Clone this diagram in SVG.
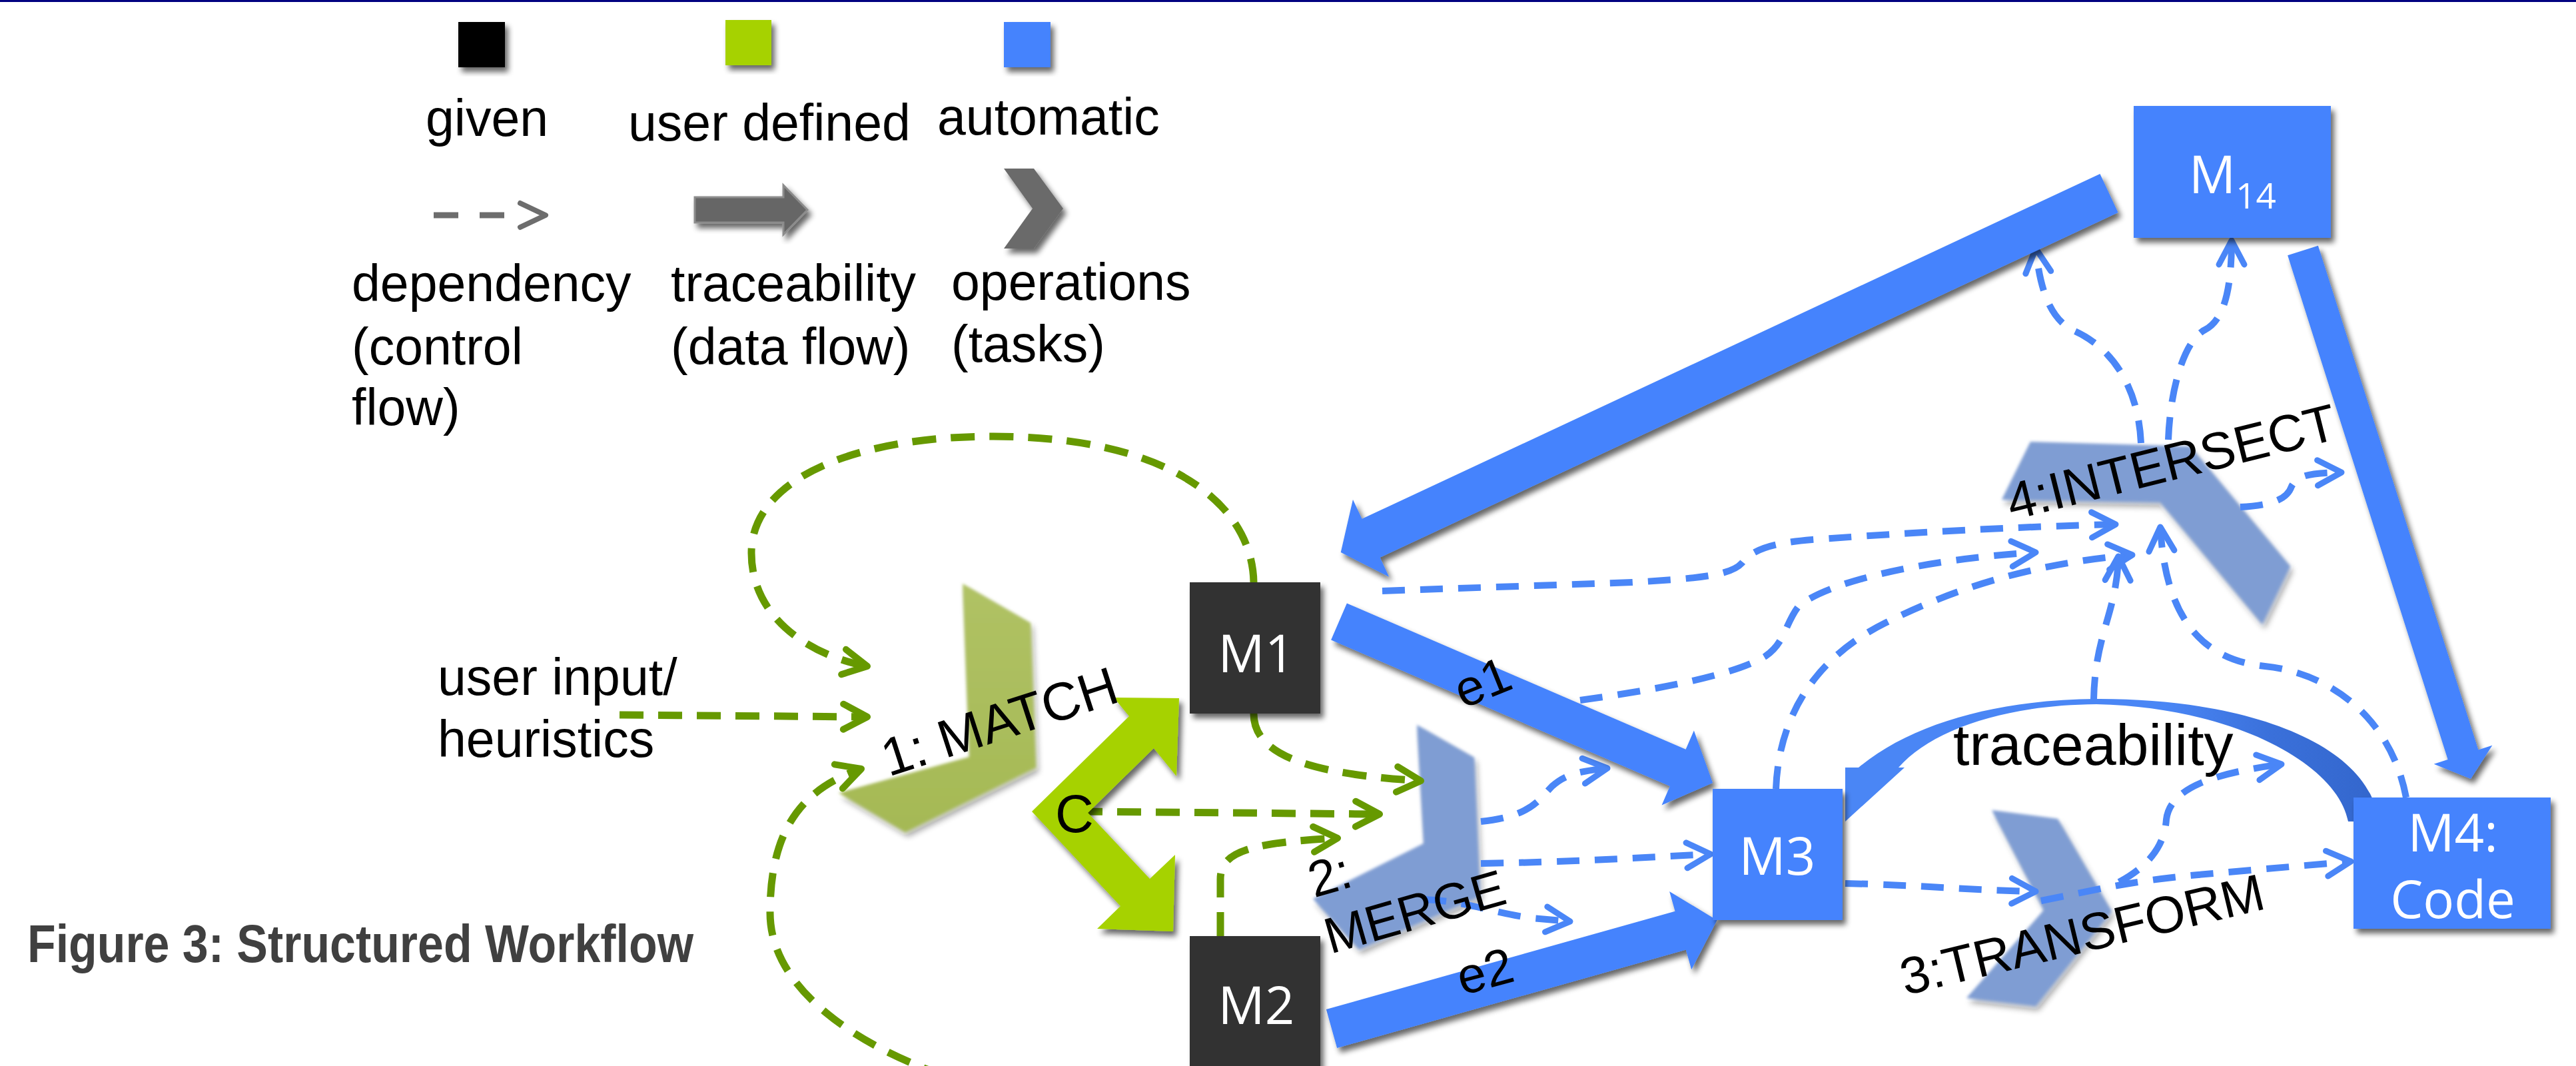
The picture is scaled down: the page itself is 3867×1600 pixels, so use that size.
<svg xmlns="http://www.w3.org/2000/svg" width="3867" height="1600" viewBox="0 0 3867 1600">
<defs>
<style>
.t{font-family:"Liberation Sans",Arial,sans-serif;fill:#000}
.leg{font-size:77px}
.lab{font-size:76px}
.bx{font-family:"Open Sans","Noto Sans",sans-serif;fill:#fff;font-size:78px;text-anchor:middle}
.gd{fill:none;stroke:#669900;stroke-width:11;stroke-dasharray:36 22}
.bd{fill:none;stroke:#4a86f7;stroke-width:10;stroke-dasharray:34 23}
.op{fill:#7f9dd3}
.blk{fill:#4483fd}
.dk{fill:#333333}
</style>
<filter id="sh" x="-20%" y="-20%" width="140%" height="140%">
<feGaussianBlur in="SourceAlpha" stdDeviation="4"/>
<feOffset dx="5" dy="7" result="o"/>
<feComponentTransfer><feFuncA type="linear" slope="0.6"/></feComponentTransfer>
<feMerge><feMergeNode/><feMergeNode in="SourceGraphic"/></feMerge>
</filter>
<filter id="soft" x="-20%" y="-20%" width="140%" height="140%">
<feGaussianBlur in="SourceGraphic" stdDeviation="2" result="b"/>
<feGaussianBlur in="SourceAlpha" stdDeviation="5"/>
<feOffset dx="4" dy="7"/>
<feComponentTransfer><feFuncA type="linear" slope="0.35"/></feComponentTransfer>
<feMerge><feMergeNode/><feMergeNode in="b"/></feMerge>
</filter>
<marker id="ag" viewBox="0 0 40 40" refX="38" refY="20" markerWidth="40" markerHeight="40" markerUnits="userSpaceOnUse" orient="auto" overflow="visible">
<path d="M2,1 L38,20 L2,39" fill="none" stroke="#669900" stroke-width="10" stroke-linecap="round" stroke-linejoin="round"/>
</marker>
<marker id="ab" viewBox="0 0 40 40" refX="38" refY="20" markerWidth="40" markerHeight="40" markerUnits="userSpaceOnUse" orient="auto" overflow="visible">
<path d="M2,1 L38,20 L2,39" fill="none" stroke="#4a86f7" stroke-width="9" stroke-linecap="round" stroke-linejoin="round"/>
</marker>
<linearGradient id="arcg" gradientUnits="userSpaceOnUse" x1="2770" y1="0" x2="3570" y2="0">
<stop offset="0" stop-color="#4a86f5"/>
<stop offset="0.6" stop-color="#4a86f5"/>
<stop offset="0.8" stop-color="#3a70da"/>
<stop offset="1" stop-color="#3366cc"/>
</linearGradient>
<linearGradient id="matchg" x1="0" y1="0" x2="0" y2="1">
<stop offset="0" stop-color="#b0c264"/>
<stop offset="1" stop-color="#a5b955"/>
</linearGradient>
</defs>
<rect width="3867" height="1600" fill="#fff"/>
<rect x="0" y="0" width="3867" height="3" fill="#000080"/>

<g id="legend">
<rect x="688" y="33" width="70" height="68" fill="#000" filter="url(#sh)"/>
<rect x="1089" y="30" width="69" height="68" fill="#a6d200" filter="url(#sh)"/>
<rect x="1507" y="33" width="70" height="68" fill="#4483fd" filter="url(#sh)"/>
<text class="t leg" x="639" y="204">given</text>
<text class="t leg" x="943" y="211">user defined</text>
<text class="t leg" x="1407" y="202">automatic</text>
<path d="M651,323 L688,323 M720,323 L757,323" stroke="#6d6d6d" stroke-width="9" fill="none"/>
<path d="M781,305 L819,323 L781,341" stroke="#6d6d6d" stroke-width="8" fill="none" stroke-linecap="round" stroke-linejoin="round"/>
<polygon points="1043,296 1176,296 1176,278 1212,315 1176,352 1176,334 1043,334" fill="#666" stroke="#8c8c8c" stroke-width="3" filter="url(#sh)"/>
<polygon points="1507,253 1552,253 1596,313 1552,373 1507,373 1550,313" fill="#6b6b6b" filter="url(#sh)"/>
<text class="t leg" x="528" y="452">dependency</text>
<text class="t leg" x="528" y="547">(control</text>
<text class="t leg" x="528" y="638">flow)</text>
<text class="t leg" x="1007" y="452">traceability</text>
<text class="t leg" x="1007" y="547">(data flow)</text>
<text class="t leg" x="1428" y="450">operations</text>
<text class="t leg" x="1428" y="543">(tasks)</text>
</g>

<text id="title" x="41" y="1444" font-family="'Liberation Sans',Arial,sans-serif" font-weight="bold" font-size="80" fill="#404040" textLength="1000" lengthAdjust="spacingAndGlyphs">Figure 3: Structured Workflow</text>

<g id="op-match"><polygon points="1445,876 1547,935 1555,1152 1359,1249 1259,1190 1455,1136" fill="url(#matchg)" filter="url(#soft)"/></g>
<g id="op-merge"><polygon class="op" points="2127,1088 2213,1137 2222,1345 2040,1425 1971,1349 2137,1266" filter="url(#soft)"/></g>
<g id="op-intersect"><polygon class="op" points="3048,663 3288,670 3438,850 3396,937 3243,754 3005,750" filter="url(#soft)"/></g>
<g id="op-transform"><polygon class="op" points="2990,1216 3089,1229 3170,1368 3056,1510 2952,1498 3068,1366" filter="url(#soft)"/></g>

<g id="connectors">
<path class="gd" marker-end="url(#ag)" d="M1882,874 C1880,760 1760,655 1491,655 C1280,655 1128,720 1128,830 C1128,930 1220,985 1302,1000"/>
<path class="gd" marker-end="url(#ag)" d="M930,1073 L1302,1076"/>
<path class="gd" marker-end="url(#ag)" d="M1420,1615 C1300,1575 1156,1490 1156,1370 C1156,1250 1200,1185 1293,1154"/>
<path class="gd" marker-end="url(#ag)" d="M1882,1071 C1882,1135 1970,1162 2133,1172"/>
<path class="gd" marker-end="url(#ag)" d="M1619,1218 L2071,1222"/>
<path class="gd" marker-end="url(#ag)" d="M1832,1405 L1832,1320 C1832,1280 1870,1265 2008,1258"/>

<path class="bd" marker-end="url(#ab)" d="M2075,887 L2450,874 C2560,868 2600,862 2615,845 C2630,825 2660,815 2720,810 C2900,797 3050,790 3176,787"/>
<path class="bd" marker-end="url(#ab)" d="M2372,1051 C2480,1036 2600,1015 2650,985 C2680,965 2680,935 2700,910 C2740,875 2880,840 3056,829"/>
<path class="bd" marker-end="url(#ab)" d="M2666,1184 C2670,1080 2720,990 2830,935 C2930,885 3050,845 3201,833"/>
<path class="bd" marker-end="url(#ab)" d="M2770,1326 C2880,1328 2950,1336 3056,1338"/>
<path class="bd" marker-end="url(#ab)" d="M3143,1050 C3145,950 3178,920 3180,835"/>
<path class="bd" marker-end="url(#ab)" d="M3612,1197 C3590,1080 3500,1010 3400,1000 C3300,990 3250,920 3243,791"/>
<path class="bd" marker-end="url(#ab)" d="M3181,1324 C3235,1295 3250,1260 3252,1230 C3258,1180 3330,1160 3425,1147"/>
<path class="bd" marker-end="url(#ab)" d="M3064,1352 C3150,1335 3200,1322 3300,1313 L3529,1293"/>
<path class="bd" marker-end="url(#ab)" d="M3363,761 C3420,758 3435,745 3440,730 C3450,712 3470,710 3515,709"/>
<path class="bd" marker-end="url(#ab)" d="M3214,665 C3210,580 3170,520 3110,495 C3075,475 3062,430 3056,373"/>
<path class="bd" marker-end="url(#ab)" d="M3255,660 C3258,580 3280,510 3310,495 C3340,480 3350,430 3350,361"/>
<path class="bd" marker-end="url(#ab)" d="M2223,1233 C2300,1225 2310,1200 2330,1180 C2350,1162 2370,1158 2413,1153"/>
<path class="bd" marker-end="url(#ab)" d="M2223,1296 C2350,1294 2450,1288 2568,1282"/>
<path class="bd" marker-end="url(#ab)" d="M2137,1350 C2200,1352 2240,1370 2300,1378 L2357,1383"/>

<g filter="url(#sh)"><polygon class="blk" transform="translate(3166,290) rotate(154.95)" points="0,-32 1223,-32 1223,-64 1273,0 1223,64 1223,32 0,32"/></g>
<g filter="url(#sh)"><polygon class="blk" transform="translate(2010,933) rotate(23.33)" points="0,-30 554,-30 554,-61 611,0 554,61 554,30 0,30"/></g>
<g filter="url(#sh)"><polygon class="blk" transform="translate(1999,1544) rotate(-15.72)" points="0,-30 544,-30 544,-61 601,0 544,61 544,30 0,30"/></g>
<g filter="url(#sh)"><polygon class="blk" transform="translate(3457,376) rotate(72.37)" points="0,-24 794,-24 794,-46 832,0 794,46 794,24 0,24"/></g>
<path fill="url(#arcg)" d="M2770,1233 L2770,1152 L2790,1152 C2870,1085 3000,1050 3147,1049 C3380,1048 3560,1120 3570,1233 L3525,1233 C3510,1150 3360,1062 3147,1057 C3010,1058 2900,1095 2850,1152 L2859,1152 Z"/>
</g>

<g id="user-c">
<polygon points="1549,1218 1695,1075 1672,1047 1770,1048 1766,1165 1732,1123 1633,1220 1726,1319 1764,1283 1761,1398 1647,1394 1682,1360" fill="#a6d200" filter="url(#sh)"/>
</g>

<g id="M1"><rect class="dk" x="1786" y="874" width="196" height="197" filter="url(#sh)"/><text class="bx" x="1886" y="1009">M1</text></g>
<g id="M2"><rect class="dk" x="1786" y="1405" width="196" height="205" filter="url(#sh)"/><text class="bx" x="1886" y="1537">M2</text></g>
<g id="M3"><rect class="blk" x="2571" y="1184" width="195" height="197" filter="url(#sh)"/><text class="bx" x="2668" y="1313">M3</text></g>
<g id="M4"><rect class="blk" x="3533" y="1197" width="296" height="197" filter="url(#sh)"/><text class="bx" x="3682" y="1278">M4:</text><text class="bx" x="3682" y="1378">Code</text></g>
<g id="M14"><rect class="blk" x="3203" y="159" width="296" height="198" filter="url(#sh)"/><text class="bx" x="3286" y="290" style="text-anchor:start">M<tspan font-size="53" dy="23">14</tspan></text></g>

<g id="labels">
<text class="t leg" x="657" y="1043">user input/</text>
<text class="t leg" x="657" y="1136">heuristics</text>
<text class="t" font-size="80" transform="translate(1334,1166) rotate(-18)">1: MATCH</text>
<text class="t" font-size="80" x="1584" y="1249">C</text>
<text class="t lab" transform="translate(1997,1432) rotate(-16)"><tspan x="0" y="-88">2:</tspan><tspan x="0" y="0">MERGE</tspan></text>
<text class="t" transform="translate(2860,1494) rotate(-13.5)" font-size="78">3:TRANSFORM</text>
<text class="t" transform="translate(3020,781) rotate(-14)" font-size="78">4:INTERSECT</text>
<text class="t" font-size="88" x="2932" y="1148">traceability</text>
<text class="t lab" transform="translate(2196,1064) rotate(-22)">e1</text>
<text class="t lab" transform="translate(2195,1494) rotate(-15)">e2</text>
</g>
</svg>
